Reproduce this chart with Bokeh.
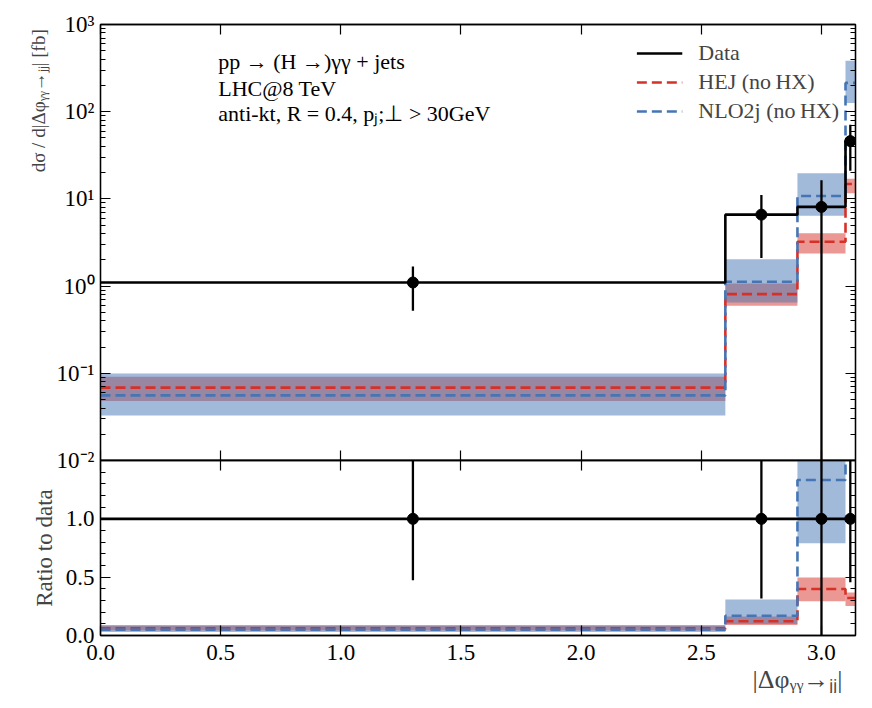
import numpy as np
from bokeh.plotting import figure
from bokeh.models import (Range1d, FixedTicker, LinearAxis, LogAxis, Legend, LegendItem,
                          Label, Title, CustomJSTickFormatter)
from bokeh.layouts import column
from bokeh.embed import file_html
from bokeh.resources import INLINE

# ---------------- data ----------------
bin_edges = [0.0, 2.6, 2.9, 3.1, np.pi]
bin_centres = [1.3, 2.75, 3.0, 3.12]
data_vals = [1.1, 6.6, 8.1, 46.0]
data_errs = [0.58, 4.5, 8.3, 25.0]
hej_vals = [0.0685, 0.81, 3.23, 14.8]
hej_low = [0.048, 0.594, 2.37, 11.6]
hej_high = [0.091, 1.07, 4.03, 17.0]
nlo_vals = [0.0558, 1.12, 10.8, 214.0]
nlo_low = [0.0329, 0.65, 6.4, 126.0]
nlo_high = [0.0995, 2.03, 19.7, 385.0]
x_ticks = [0.0, 0.5, 1.0, 1.5, 2.0, 2.5, 3.0]
log_ticks = [1e-2, 1e-1, 1.0, 10.0, 100.0, 1000.0]
ratio_ticks = [0.0, 0.5, 1.0]
ratio_minor = [0.1, 0.2, 0.3, 0.4, 0.6, 0.7, 0.8, 0.9, 1.1, 1.2, 1.3, 1.4]
legend_labels = ["Data", "HEJ (no\u2009HX)", "NLO2j (no\u2009HX)"]
info_lines = ["pp \u2192 (H \u2192)\u03b3\u03b3 + jets", "LHC@8 TeV",
              "anti-kt, R = 0.4, p\u2c7c;\u22a5 > 30GeV"]
info_y = [376.0, 184.0, 94.5]
y_title = "d\u03c3 / d|\u0394\u03c6\u1d67\u1d67\u2192\u2c7c\u2c7c|  [fb]"
x_title = "|\u0394\u03c6\u1d67\u1d67\u2192\u2c7c\u2c7c|"
ratio_title = "Ratio to data"

FONT = "Liberation Serif"
FS = "23px"
RED = "#d73027"
BLUE = "#4575b4"
LW = 2.6

edges = np.array(bin_edges)
d = np.array(data_vals)
de = np.array(data_errs)
log_minor = [k * 10.0 ** e for e in range(-2, 3) for k in range(2, 10)]


def ext(a):
    a = list(a)
    return a + [a[-1]]


def blank_fmt():
    return CustomJSTickFormatter(code="return '';")


def fixed_fmt():
    return CustomJSTickFormatter(code="return tick.toFixed(1);")


def pow_fmt():
    return CustomJSTickFormatter(code="""
const e = Math.round(Math.log10(tick));
const m = {"-":"\u207b","0":"\u2070","1":"\u00b9","2":"\u00b2","3":"\u00b3","4":"\u2074",
           "5":"\u2075","6":"\u2076","7":"\u2077","8":"\u2078","9":"\u2079"};
return "10" + String(e).split("").map(c => m[c]).join("");
""")


def make_axis(cls, labels, ticks, minor, fmt=None, standoff=6):
    ax = cls()
    ax.ticker = FixedTicker(ticks=ticks, minor_ticks=minor)
    ax.major_tick_in = 10
    ax.major_tick_out = 0
    ax.minor_tick_in = 5
    ax.minor_tick_out = 0
    ax.axis_line_color = "black"
    ax.axis_line_width = 1.3
    ax.major_tick_line_width = 1.2
    ax.minor_tick_line_width = 1.0
    ax.major_tick_line_color = "black"
    ax.minor_tick_line_color = "black"
    if labels:
        ax.formatter = fmt
        ax.major_label_text_font = FONT
        ax.major_label_text_font_size = FS
        ax.major_label_text_color = "black"
        ax.major_label_standoff = standoff
    else:
        ax.formatter = blank_fmt()
        ax.major_label_text_font_size = "0px"
        ax.major_label_standoff = 0
    return ax


# ---------------- top panel ----------------
top = figure(frame_width=755, frame_height=436, min_border_left=100, min_border_right=12,
             min_border_top=24, min_border_bottom=14,
             x_range=Range1d(0, np.pi), y_range=Range1d(1e-2, 1e3), y_axis_type="log",
             x_axis_location=None, y_axis_location=None,
             output_backend="svg", toolbar_location=None)
top.grid.visible = False
top.outline_line_color = "black"
top.outline_line_width = 1.3

top.add_layout(make_axis(LinearAxis, False, x_ticks, []), "below")
top.add_layout(make_axis(LinearAxis, False, x_ticks, []), "above")
top.add_layout(make_axis(LogAxis, True, log_ticks, log_minor, pow_fmt()), "left")
top.add_layout(make_axis(LogAxis, False, log_ticks, log_minor), "right")

top.quad(left=edges[:-1], right=edges[1:], bottom=hej_low, top=hej_high,
         fill_color=RED, fill_alpha=0.5, line_alpha=0)
top.quad(left=edges[:-1], right=edges[1:], bottom=nlo_low, top=nlo_high,
         fill_color=BLUE, fill_alpha=0.5, line_alpha=0)
r_hej = top.step(edges, ext(hej_vals), mode="after", line_color=RED, line_width=LW,
                 line_dash="10 5")
r_nlo = top.step(edges, ext(nlo_vals), mode="after", line_color=BLUE, line_width=LW,
                 line_dash="10 5")
r_dat = top.step(edges, ext(data_vals), mode="after", line_color="black", line_width=LW)
top.segment(x0=bin_centres, x1=bin_centres, y0=np.maximum(d - de, 1e-5), y1=d + de,
            line_color="black", line_width=2.3)
top.scatter(bin_centres, data_vals, size=11, color="black")

legend = Legend(items=[LegendItem(label=legend_labels[0], renderers=[r_dat]),
                       LegendItem(label=legend_labels[1], renderers=[r_hej]),
                       LegendItem(label=legend_labels[2], renderers=[r_nlo])],
                location="top_right", margin=7, padding=9, spacing=3,
                glyph_width=46, glyph_height=22, label_height=22, label_standoff=16,
                label_text_font=FONT, label_text_font_size="22px",
                border_line_alpha=0, background_fill_alpha=0)
top.add_layout(legend)

for txt, yy in zip(info_lines, info_y):
    top.add_layout(Label(x=0.49, y=yy, text=txt, text_font=FONT, text_font_size="22px",
                         text_baseline="middle", text_align="left", text_color="black"))

top.add_layout(Title(text=y_title, align="right", text_font=FONT, text_font_size="19px",
                     text_font_style="normal"), "left")

# ---------------- ratio panel ----------------
ratio = figure(frame_width=755, frame_height=175, min_border_left=100, min_border_right=12,
               min_border_top=14, min_border_bottom=30,
               x_range=Range1d(0, np.pi), y_range=Range1d(0, 1.5),
               x_axis_location=None, y_axis_location=None,
               output_backend="svg", toolbar_location=None, margin=(-28, 0, 0, 0),
               border_fill_alpha=0)
ratio.grid.visible = False
ratio.outline_line_color = "black"
ratio.outline_line_width = 1.3
ratio.add_layout(make_axis(LinearAxis, True, x_ticks, [], fixed_fmt(), standoff=9), "below")
ratio.add_layout(make_axis(LinearAxis, False, x_ticks, []), "above")
ry = make_axis(LinearAxis, True, ratio_ticks, ratio_minor, fixed_fmt())
ry.axis_label = ratio_title
ry.axis_label_text_font = FONT
ry.axis_label_text_font_size = FS
ry.axis_label_text_font_style = "normal"
ry.axis_label_standoff = 6
ratio.add_layout(ry, "left")
ratio.add_layout(make_axis(LinearAxis, False, ratio_ticks, ratio_minor), "right")

ratio.quad(left=edges[:-1], right=edges[1:], bottom=np.array(hej_low) / d,
           top=np.array(hej_high) / d, fill_color=RED, fill_alpha=0.5, line_alpha=0)
ratio.quad(left=edges[:-1], right=edges[1:], bottom=np.array(nlo_low) / d,
           top=np.array(nlo_high) / d, fill_color=BLUE, fill_alpha=0.5, line_alpha=0)
ratio.step(edges, ext(np.array(hej_vals) / d), mode="after", line_color=RED, line_width=LW,
           line_dash="10 5")
ratio.step(edges, ext(np.array(nlo_vals) / d), mode="after", line_color=BLUE, line_width=LW,
           line_dash="10 5")
ratio.step(edges, ext(d / d), mode="after", line_color="black", line_width=LW)
ratio.segment(x0=bin_centres, x1=bin_centres, y0=1 - de / d, y1=1 + de / d,
              line_color="black", line_width=2.3)
ratio.scatter(bin_centres, d / d, size=11, color="black")

ratio.add_layout(Title(text=x_title, align="right", text_font=FONT, text_font_size="26px",
                       text_font_style="normal", standoff=0, offset=13), "below")

layout = column(top, ratio, spacing=0)
open("out.html", "w").write(file_html(layout, INLINE))
